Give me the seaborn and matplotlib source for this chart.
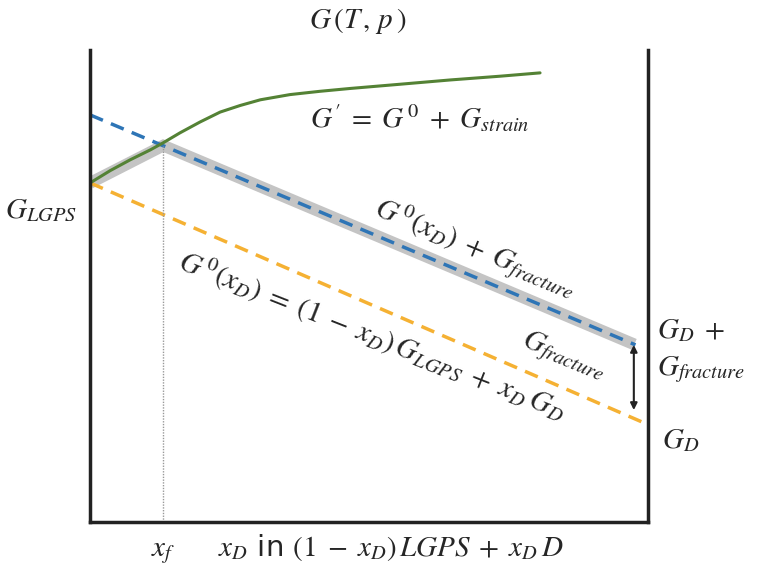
import numpy as np
import pandas as pd
import matplotlib
matplotlib.use("Agg")
import matplotlib.pyplot as plt
import seaborn as sns

# schematic values (x: composition 0..1, y: free energy, arbitrary)
green_x = [0.0, 0.036, 0.072, 0.108, 0.131, 0.161, 0.197, 0.233, 0.269, 0.305,
           0.358, 0.412, 0.466, 0.556, 0.645, 0.735, 0.806]
green_y = [0.718, 0.744, 0.767, 0.788, 0.803, 0.824, 0.847, 0.868, 0.882, 0.894,
           0.905, 0.912, 0.918, 0.927, 0.936, 0.944, 0.951]
blue_x = [0.0, 0.977]
blue_y = [0.862, 0.375]
orange_x = [0.0, 1.0]
orange_y = [0.718, 0.206]
gray_x = [0.0, 0.131, 0.975]
gray_y = [0.718, 0.797, 0.376]
x_f = 0.131
arrow_x = 0.974
arrow_y = [0.375, 0.237]

sns.set_style("white")
plt.rcParams["mathtext.fontset"] = "stix"
plt.rcParams["font.family"] = ["DejaVu Sans"]

fig = plt.figure(figsize=(7.7, 5.69), dpi=100)
ax = fig.add_axes([0.117, 0.0826, 0.725, 0.83])

sns.lineplot(x=gray_x, y=gray_y, ax=ax, color="#c4c4c4", linewidth=8.5,
             solid_capstyle="butt", solid_joinstyle="miter", sort=False)
sns.lineplot(x=blue_x, y=blue_y, ax=ax, color="#2e75b6", linewidth=2.5,
             linestyle=(0, (4, 2.5)))
sns.lineplot(x=orange_x, y=orange_y, ax=ax, color="#f5b133", linewidth=2.5,
             linestyle=(0, (4, 2.5)))
sns.lineplot(x=green_x, y=green_y, ax=ax, color="#548235", linewidth=2.2)
ax.plot([x_f, x_f], [0, gray_y[1]], color="#999999", linewidth=1, linestyle=(0, (1, 1)))
ax.annotate("", xy=(arrow_x, arrow_y[1]), xytext=(arrow_x, arrow_y[0]),
            arrowprops=dict(arrowstyle="<|-|>", color="#222222", lw=1.5,
                            mutation_scale=10, shrinkA=0, shrinkB=0))

ax.set_xlim(0, 1)
ax.set_ylim(0, 1)
ax.set_xticks([])
ax.set_yticks([])
for side in ["left", "right", "bottom"]:
    ax.spines[side].set_linewidth(2.5)
    ax.spines[side].set_color("#222222")
ax.spines["top"].set_visible(False)

fs = 21
ax.text(0.48, 1.06, r"$G\,(T\,,\,p\,)$", transform=ax.transAxes, ha="center", va="center", fontsize=fs)
ax.text(0.59, 0.855, r"$G'\;=\;G^{\,0}\;+\;G_{strain}$", ha="center", va="center", fontsize=fs)
ax.text(-0.152, 0.66, r"$G_{LGPS}$", ha="left", va="center", fontsize=fs)
ax.text(0.69, 0.578, r"$G^{\,0}(x_D)\;+\;G_{fracture}$", ha="center", va="center",
        fontsize=fs, rotation=-22.5)
ax.text(0.505, 0.395, r"$G^{\,0}(x_D)\;=\;(1\;-\;x_D)\,G_{LGPS}\;+\;x_D\,G_D$", ha="center",
        va="center", fontsize=fs, rotation=-21.5)
ax.text(0.848, 0.35, r"$G_{fracture}$", ha="center", va="center",
        fontsize=fs, rotation=-22.5)
ax.text(1.016, 0.407, r"$G_D\;+$", ha="left", va="center", fontsize=fs)
ax.text(1.016, 0.322, r"$G_{fracture}$", ha="left", va="center", fontsize=fs)
ax.text(1.024, 0.174, r"$G_D$", ha="left", va="center", fontsize=fs)
ax.text(x_f, -0.072, r"$x_f$", ha="center", va="baseline", fontsize=fs)
ax.text(0.538, -0.072, r"$x_D$ in $(1\;-\;x_D)\,LGPS\;+\;x_D\,D$", ha="center", va="baseline",
        fontsize=fs)

fig.savefig("out.png", dpi=100)
